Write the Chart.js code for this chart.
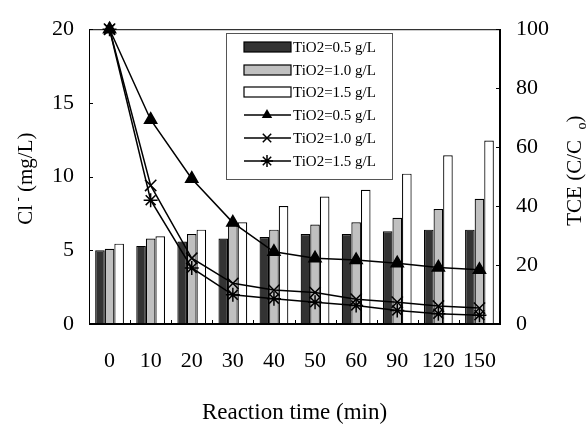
<!DOCTYPE html>
<html>
<head>
<meta charset="utf-8">
<script src="https://cdn.jsdelivr.net/npm/chart.js@4/dist/chart.umd.min.js"></script>
<style>
  html, body { margin: 0; padding: 0; background: #fff; }
  #wrap { width: 588px; height: 428px; }
</style>
</head>
<body>
<div id="wrap"><canvas id="chart" width="588" height="428"></canvas></div>
<script>
// reaction time categories (min)
var times = ['0', '10', '20', '30', '40', '50', '60', '90', '120', '150'];

// Cl- (mg/L), bars, left axis
var cl05 = [5.0, 5.3, 5.6, 5.8, 5.9, 6.1, 6.1, 6.3, 6.4, 6.4];
var cl10 = [5.1, 5.8, 6.1, 6.7, 6.4, 6.75, 6.9, 7.2, 7.8, 8.5];
var cl15 = [5.45, 5.95, 6.4, 6.9, 8.0, 8.65, 9.1, 10.2, 11.45, 12.45];

// TCE (C/Co), lines, right axis
var tce05 = [100, 69.3, 49.3, 34.4, 24.5, 22.3, 21.7, 20.6, 19.2, 18.4];
var tce10 = [100, 47, 22.3, 13.8, 11.5, 10.7, 8.4, 7.4, 6.1, 5.4];
var tce15 = [100, 42, 19, 9.9, 8.6, 7.4, 6.3, 4.6, 3.5, 3.0];

var leftTicks = [0, 5, 10, 15, 20];
var rightTicks = [0, 20, 40, 60, 80, 100];

var FONT = "'Liberation Serif', 'Times New Roman', serif";

function barSet(label, data, fill) {
    return {
        type: 'bar', label: label, data: data, yAxisID: 'y',
        backgroundColor: fill, borderColor: '#000', borderWidth: 1.2,
        categoryPercentage: 0.7, barPercentage: 1.0, order: 2
    };
}
function lineSet(label, data, style, radius) {
    return {
        type: 'line', label: label, data: data, yAxisID: 'y1',
        borderColor: '#000', borderWidth: 1.5, backgroundColor: '#000',
        pointStyle: style, pointRadius: radius, pointBorderWidth: 1.5,
        pointBackgroundColor: '#000', pointBorderColor: '#000',
        tension: 0, clip: false, order: 1
    };
}

function drawMarker(ctx, style, x, y, r) {
    ctx.save();
    ctx.fillStyle = '#000';
    ctx.strokeStyle = '#000';
    ctx.lineWidth = 1.5;
    ctx.beginPath();
    if (style === 'triangle') {
        ctx.moveTo(x, y - r);
        ctx.lineTo(x + r * 0.87, y + r * 0.5);
        ctx.lineTo(x - r * 0.87, y + r * 0.5);
        ctx.closePath();
        ctx.fill();
    } else {
        var d = r * 0.7;
        ctx.moveTo(x - d, y - d); ctx.lineTo(x + d, y + d);
        ctx.moveTo(x + d, y - d); ctx.lineTo(x - d, y + d);
        if (style === 'star') {
            ctx.moveTo(x, y - r); ctx.lineTo(x, y + r);
            ctx.moveTo(x - r, y); ctx.lineTo(x + r, y);
        }
        ctx.stroke();
    }
    ctx.restore();
}

var decor = {
    id: 'decor',
    afterDatasetsDraw: function (chart) {
        var ctx = chart.ctx;
        var a = chart.chartArea;
        var sx = chart.scales.x, sy = chart.scales.y, sy1 = chart.scales.y1;
        ctx.save();
        ctx.strokeStyle = '#000';
        ctx.lineWidth = 1;
        ctx.strokeRect(a.left + 0.5, a.top + 0.5, a.right - a.left - 1, a.bottom - a.top - 1);
        // inward tick marks
        ctx.beginPath();
        leftTicks.forEach(function (v) {
            var p = Math.round(sy.getPixelForValue(v)) + 0.5;
            ctx.moveTo(a.left, p); ctx.lineTo(a.left + 4, p);
        });
        rightTicks.forEach(function (v) {
            var p = Math.round(sy1.getPixelForValue(v)) + 0.5;
            ctx.moveTo(a.right, p); ctx.lineTo(a.right - 4, p);
        });
        for (var i = 1; i < times.length; i++) {
            var px = Math.round((sx.getPixelForValue(i - 1) + sx.getPixelForValue(i)) / 2) + 0.5;
            ctx.moveTo(px, a.bottom); ctx.lineTo(px, a.bottom - 4);
        }
        ctx.stroke();

        // legend box
        var bx = 226, by = 33, bw = 166, bh = 146;
        ctx.fillStyle = '#fff';
        ctx.fillRect(bx, by, bw, bh);
        ctx.strokeStyle = '#555';
        ctx.strokeRect(bx + 0.5, by + 0.5, bw, bh);
        ctx.font = '15px ' + FONT;
        ctx.textBaseline = 'middle';
        ctx.textAlign = 'left';
        var rows = [47, 70, 92, 115, 138, 161];
        chart.data.datasets.forEach(function (ds, k) {
            var y = rows[k];
            if (ds.type === 'bar') {
                ctx.fillStyle = ds.backgroundColor;
                ctx.fillRect(244, y - 5, 47, 10);
                ctx.strokeStyle = '#000';
                ctx.lineWidth = 1.2;
                ctx.strokeRect(244, y - 5, 47, 10);
            } else {
                ctx.strokeStyle = '#000';
                ctx.lineWidth = 1.5;
                ctx.beginPath();
                ctx.moveTo(244, y); ctx.lineTo(291, y);
                ctx.stroke();
                drawMarker(ctx, ds.pointStyle, 267, y, 6);
            }
            ctx.fillStyle = '#000';
            ctx.fillText(ds.label, 293, y + 1);
        });

        // axis titles
        ctx.fillStyle = '#000';
        ctx.font = '23px ' + FONT;
        ctx.textAlign = 'center';
        ctx.textBaseline = 'middle';
        ctx.fillText('Reaction time (min)', (a.left + a.right) / 2, 413);

        // left title: Cl- (mg/L)
        ctx.save();
        ctx.translate(26, (a.top + a.bottom) / 2 + 2);
        ctx.rotate(-Math.PI / 2);
        ctx.textAlign = 'left';
        var t1 = 'Cl', t2 = ' (mg/L)';
        ctx.font = '21px ' + FONT;
        var w1 = ctx.measureText(t1).width;
        var w2 = ctx.measureText(t2).width;
        ctx.font = '13px ' + FONT;
        var ws = ctx.measureText(' -').width;
        var x0 = -(w1 + ws + w2) / 2;
        ctx.font = '21px ' + FONT;
        ctx.fillText(t1, x0, 0);
        ctx.font = '13px ' + FONT;
        ctx.fillText(' -', x0 + w1, -7);
        ctx.font = '21px ' + FONT;
        ctx.fillText(t2, x0 + w1 + ws, 0);
        ctx.restore();

        // right title: TCE (C/Co)
        ctx.save();
        ctx.translate(575, (a.top + a.bottom) / 2 - 6);
        ctx.rotate(-Math.PI / 2);
        ctx.textAlign = 'left';
        ctx.font = '21px ' + FONT;
        var r1 = 'TCE (C/C', r2 = ')';
        var rw1 = ctx.measureText(r1).width;
        var rw2 = ctx.measureText(r2).width;
        ctx.font = '14px ' + FONT;
        var rs = ctx.measureText('   o').width;
        var rx = -(rw1 + rs + rw2) / 2;
        ctx.font = '21px ' + FONT;
        ctx.fillText(r1, rx, 0);
        ctx.font = '14px ' + FONT;
        ctx.fillText('   o', rx + rw1, 7);
        ctx.font = '21px ' + FONT;
        ctx.fillText(r2, rx + rw1 + rs, 0);
        ctx.restore();

        ctx.restore();
    }
};

new Chart(document.getElementById('chart').getContext('2d'), {
    data: {
        labels: times,
        datasets: [
            barSet('TiO2=0.5 g/L', cl05, '#333333'),
            barSet('TiO2=1.0 g/L', cl10, '#c0c0c0'),
            barSet('TiO2=1.5 g/L', cl15, '#ffffff'),
            lineSet('TiO2=0.5 g/L', tce05, 'triangle', 7),
            lineSet('TiO2=1.0 g/L', tce10, 'crossRot', 8),
            lineSet('TiO2=1.5 g/L', tce15, 'star', 7)
        ]
    },
    options: {
        responsive: false,
        animation: false,
        layout: { autoPadding: false, padding: { top: 22, left: 0, right: 0, bottom: 0 } },
        plugins: { legend: { display: false }, tooltip: { enabled: false } },
        scales: {
            x: {
                type: 'category',
                offset: true,
                grid: { display: false, drawTicks: false },
                border: { display: true, color: '#000', width: 1 },
                ticks: { color: '#000', padding: 24, maxRotation: 0, font: { family: FONT, size: 22 } },
                afterFit: function (s) { s.height = 104; }
            },
            y: {
                position: 'left',
                min: 0, max: 20,
                grid: { display: false, drawTicks: false },
                border: { display: true, color: '#000', width: 1 },
                ticks: { stepSize: 5, color: '#000', padding: 15, font: { family: FONT, size: 22 } },
                afterFit: function (s) { s.width = 89; }
            },
            y1: {
                position: 'right',
                min: 0, max: 100,
                grid: { display: false, drawTicks: false },
                border: { display: true, color: '#000', width: 1 },
                ticks: { stepSize: 20, color: '#000', padding: 16, font: { family: FONT, size: 22 } },
                afterFit: function (s) { s.width = 88; }
            }
        }
    },
    plugins: [decor]
});
</script>
</body>
</html>
